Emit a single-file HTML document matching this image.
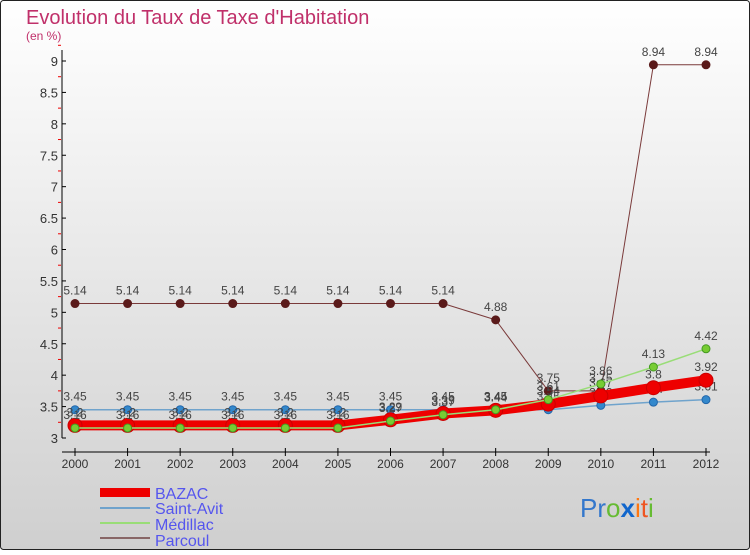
<!DOCTYPE html>
<html><head><meta charset="utf-8"><style>
body{margin:0;width:750px;height:550px;overflow:hidden;font-family:"Liberation Sans",sans-serif}
svg text{font-family:"Liberation Sans",sans-serif}
</style></head><body>
<svg id="chart" width="750" height="550" xmlns="http://www.w3.org/2000/svg">
<defs><linearGradient id="bg" x1="0" y1="0" x2="0" y2="1"><stop offset="0" stop-color="#ffffff"/><stop offset="1" stop-color="#cfcfcf"/></linearGradient></defs>
<rect x="0.5" y="0.5" width="749" height="549" fill="url(#bg)" stroke="#222" rx="3"/>
<text x="26" y="24" font-size="20" fill="#c0306a">Evolution du Taux de Taxe d'Habitation</text>
<text x="26" y="40" font-size="12" fill="#c0306a">(en %)</text>
<g id="axes"></g><g id="series"></g>
<g>
<rect x="100" y="488" width="50" height="9" fill="#ee0000"/>
<text x="155" y="499" font-size="16" fill="#5555ee">BAZAC</text>
<rect x="100" y="507" width="50" height="2" fill="#6fa3cc"/>
<text x="155" y="514" font-size="16" fill="#5555ee">Saint-Avit</text>
<rect x="100" y="522" width="50" height="2" fill="#99dd77"/>
<text x="155" y="530" font-size="16" fill="#5555ee">Médillac</text>
<rect x="100" y="537" width="50" height="2" fill="#886666"/>
<text x="155" y="546" font-size="16" fill="#5555ee">Parcoul</text>
</g>
<text x="580" y="517" font-size="26"><tspan fill="#3377cc">Pr</tspan><tspan fill="#66bb33">o</tspan><tspan fill="#1166cc" font-weight="bold">x</tspan><tspan fill="#ff7711">i</tspan><tspan fill="#ee5522">t</tspan><tspan fill="#66bb33">i</tspan></text>
</svg>
<script>
const years=[2000,2001,2002,2003,2004,2005,2006,2007,2008,2009,2010,2011,2012];
const bazac=[3.2,3.2,3.2,3.2,3.2,3.2,3.29,3.39,3.44,3.54,3.67,3.8,3.92];
const saintAvit=[3.45,3.45,3.45,3.45,3.45,3.45,3.45,3.45,3.45,3.45,3.52,3.57,3.61];
const medillac=[3.16,3.16,3.16,3.16,3.16,3.16,3.27,3.37,3.45,3.61,3.86,4.13,4.42];
const parcoul=[5.14,5.14,5.14,5.14,5.14,5.14,5.14,5.14,4.88,3.75,3.75,8.94,8.94];
const yTicks=[3,3.5,4,4.5,5,5.5,6,6.5,7,7.5,8,8.5,9];
const NS="http://www.w3.org/2000/svg";
const x=i=>75+i*(706-75)/(years.length-1);
const y=v=>438-(v-3)*(438-61)/6;
function mk(t,a,p){const e=document.createElementNS(NS,t);for(const k in a)e.setAttribute(k,a[k]);p.appendChild(e);return e;}
const ax=document.getElementById('axes'),sg=document.getElementById('series');
let yl=mk('line',{x1:62,y1:50,x2:62,y2:438,stroke:'#000'},ax);


let xl=mk('line',{x1:62,y1:452,x2:710,y2:452,stroke:'#000'},ax);


yTicks.forEach(v=>{mk('line',{x1:62,y1:y(v),x2:66,y2:y(v),stroke:'#000'},ax);
 mk('line',{x1:58,y1:y(v+0.25),x2:61,y2:y(v+0.25),stroke:'#e00'},ax);
 const t=mk('text',{x:58,y:y(v)+5,'font-size':13,'text-anchor':'end',fill:'#333'},ax);t.textContent=v;
 
 });
years.forEach((yr,i)=>{mk('line',{x1:x(i),y1:448,x2:x(i),y2:456,stroke:'#000'},ax);
 const t=mk('text',{x:x(i),y:468,'font-size':12,'text-anchor':'middle',fill:'#333'},ax);t.textContent=yr;
 
 });
function series(vals,name,col,w,r,dot,dotStroke){
 const g=mk('g',{},sg);
 
 
 mk('polyline',{points:vals.map((v,i)=>x(i)+','+y(v)).join(' '),fill:'none',stroke:col,'stroke-width':w,'stroke-linejoin':'round'},g);
 vals.forEach((v,i)=>{const c=mk('circle',{cx:x(i),cy:y(v),r:r,fill:dot,stroke:dotStroke,'stroke-width':1},g);
  
  
  const t=mk('text',{x:x(i),y:y(v)-9,'font-size':12,'text-anchor':'middle',fill:'#444'},g);t.textContent=v;});
}
series(parcoul,'parcoul','#7a3a3a',1,4,'#5a1a1a','#5a1a1a');
series(saintAvit,'saint-avit','#6fa3cc',1.5,4,'#3388cc','#2266aa');
series(bazac,'bazac','#ee0000',10,7,'#ee0000','#cc0000');
series(medillac,'medillac','#99dd77',1.5,4,'#77cc33','#449922');
</script>
</body></html>
